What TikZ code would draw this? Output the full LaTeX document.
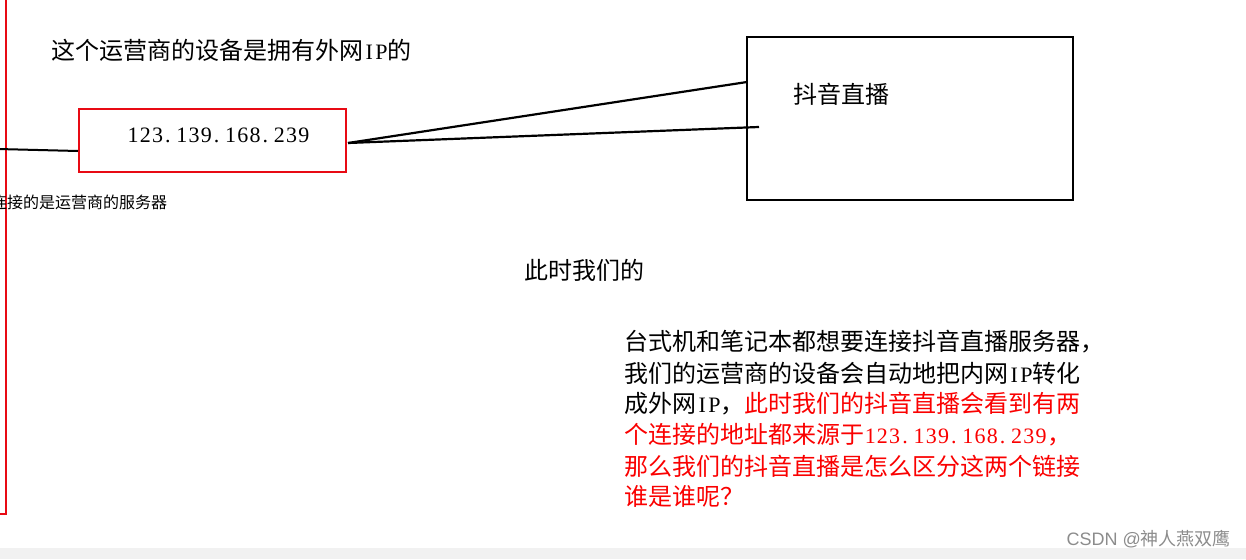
\documentclass[tikz,border=0pt]{standalone}
\usepackage{fontspec}
\setmainfont{Noto Sans CJK SC}
\newfontfamily\latserif{Liberation Serif}
\newfontfamily\latsans{Liberation Sans}
% half-width (SimSun-like) Latin cells
\newcommand\hd[1]{\makebox[12.2pt][c]{\latserif\fontsize{22}{24}\selectfont #1}}
\newcommand\hp{\makebox[12.2pt][l]{\hspace{1.5pt}\latserif\fontsize{22}{24}\selectfont .}}
\newcommand\ipaddr{\hd1\hd2\hd3\hp\hd1\hd3\hd9\hp\hd1\hd6\hd8\hp\hd2\hd3\hd9}
\newcommand\IPs{\hd{I}\hd{P}}
\definecolor{boxred}{RGB}{232,10,20}
\definecolor{txtred}{RGB}{250,0,0}
\definecolor{wmgray}{RGB}{140,140,140}
\definecolor{strip}{RGB}{241,241,241}
\tikzset{
  txt/.style={inner sep=0pt, anchor=west, font=\fontsize{24}{28}\selectfont},
  smalltxt/.style={inner sep=0pt, anchor=west, font=\fontsize{16}{18}\selectfont},
  redbox/.style={draw=boxred, line width=2pt, inner sep=0pt},
  blackbox/.style={draw=black, line width=2pt, inner sep=0pt},
  conn/.style={draw=black, line width=2.2pt},
}
\begin{document}
\begin{tikzpicture}[x=1pt,y=-1pt]
\useasboundingbox (0,0) rectangle (1246,559);
\clip (0,0) rectangle (1246,559);
\fill[strip] (0,548) rectangle (1246,559);
% left red bracket (part of a box cut off by the frame)
\draw[boxred, line width=2.5pt] (6,-3) -- (6,514) -- (-3,514);
% title
\node[txt] (title) at (51,50) {这个运营商的设备是拥有外网\IPs{}的};
% IP box
\node[redbox, minimum width=267pt, minimum height=63pt] (ipbox) at (212.5,140.5) {};
\node[inner sep=0pt] (iptext) at (218.5,135) {\ipaddr};
% small label, clipped at the left edge
\node[smalltxt] (lbl) at (-9,202) {连接的是运营商的服务器};
% left connector
\coordinate (lft) at (-2,149);
\draw[conn, line width=2pt] (lft) -- ([yshift=-10.5pt]ipbox.west);
% douyin box
\node[blackbox, minimum width=326pt, minimum height=163pt] (dy) at (910,118.5) {};
\node[txt] (dytext) at (793,94) {抖音直播};
% connectors from IP box to douyin box
\draw[conn] ([xshift=1pt,yshift=-2.5pt]ipbox.east) -- ([xshift=1pt,yshift=36.5pt]dy.west);
\draw[conn] ([xshift=1pt,yshift=-2.5pt]ipbox.east) -- ([xshift=13pt,yshift=-8.5pt]dy.west);
% middle label
\node[txt] (now) at (524,270) {此时我们的};
% paragraph
\node[txt] (p1) at (624,342) {台式机和笔记本都想要连接抖音直播服务器，};
\node[txt] (p2) at (624,373) {我们的运营商的设备会自动地把内网\IPs{}转化};
\node[txt] (p3) at (624,404) {成外网\IPs{}，\textcolor{txtred}{此时我们的抖音直播会看到有两}};
\node[txt, text=txtred] (p4) at (624,435) {个连接的地址都来源于\ipaddr{}，};
\node[txt, text=txtred] (p5) at (624,466) {那么我们的抖音直播是怎么区分这两个链接};
\node[txt, text=txtred] (p6) at (624,496) {谁是谁呢？};
% watermark
\node[inner sep=0pt, anchor=east, text=wmgray, font=\fontsize{18}{20}\selectfont] (wm) at (1231,539) {{\latsans CSDN @}神人燕双鹰};
\end{tikzpicture}
\end{document}
